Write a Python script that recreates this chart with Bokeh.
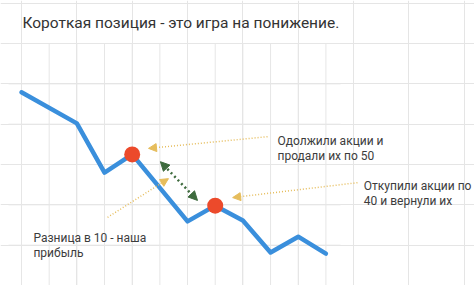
from bokeh.plotting import figure
from bokeh.models import Range1d, Arrow, NormalHead
from bokeh.core.properties import value
from bokeh.embed import file_html
from bokeh.resources import INLINE

# ---- data ----
x_vals = [0, 2, 3, 4, 6, 7, 8, 9, 10, 11]
y_vals = [4.79, 4.02, 2.80, 3.25, 1.59, 1.98, 1.61, 0.82, 1.21, 0.79]
dot_idx = [3, 5]  # sold at 50, bought back at 40

grid_x = list(range(12))
grid_y = [1, 2, 3, 4, 5, 6]

title_text = "Короткая позиция - это игра на понижение."

note_text = ["Одолжили акции и", "продали их по 50",
             "Откупили акции по", "40 и вернули их",
             "Разница в 10 - наша", "прибыль"]
note_x = [9.25, 9.25, 12.37, 12.37, 0.43, 0.43]
note_y = [3.595, 3.223, 2.455, 2.083, 1.190, 0.818]

# yellow pointer arrows: (x_start, y_start, x_end, y_end)
ptr_arrows = [(8.89, 3.69, 4.59, 3.40),
              (12.14, 2.55, 7.63, 2.18),
              (3.11, 1.69, 5.31, 2.65)]
diff_arrow = (5.02, 3.07, 6.36, 2.11)

p = figure(width=474, height=285, output_backend="svg", toolbar_location=None,
           x_axis_location=None, y_axis_location=None,
           x_range=Range1d(-0.759, 16.37), y_range=Range1d(0, 7.067),
           min_border=0, outline_line_color=None)
p.background_fill_color = "white"
p.border_fill_color = "white"

grid_color = "#e6e6e6"
p.segment(x0=grid_x, x1=grid_x, y0=[0] * len(grid_x), y1=[grid_y[-1]] * len(grid_x),
          line_color=grid_color, line_width=1)
p.segment(x0=[-0.47] * len(grid_y), x1=[11.53] * len(grid_y), y0=grid_y, y1=grid_y,
          line_color=grid_color, line_width=1)

p.line(x_vals, y_vals, line_width=4.5, line_color="#3a8fdc", line_join="round", line_cap="round")
p.scatter([x_vals[i] for i in dot_idx], [y_vals[i] for i in dot_idx], size=16,
          fill_color="#ec4a2b", line_color=None)

yellow = "#e6bd5c"
for xs, ys, xe, ye in ptr_arrows:
    p.add_layout(Arrow(end=NormalHead(size=8, fill_color=yellow, line_color=yellow),
                       x_start=xs, y_start=ys, x_end=xe, y_end=ye,
                       line_color=yellow, line_width=1.5, line_dash="1 2"))

green = "#3e6b3e"
xs, ys, xe, ye = diff_arrow
p.add_layout(Arrow(start=NormalHead(size=9, fill_color=green, line_color=green),
                   end=NormalHead(size=9, fill_color=green, line_color=green),
                   x_start=xs, y_start=ys, x_end=xe, y_end=ye,
                   line_color=green, line_width=2.5, line_dash="2 3"))

p.text(x=[0.036], y=[6.50], text=[title_text], text_font=value("Roboto"),
       text_font_size="15.5px", text_color="#333333", text_baseline="alphabetic",
       text_align="left")
p.text(x=note_x, y=note_y, text=note_text, text_font=value("Roboto"),
       text_font_size="12px", text_color="#3c3c3c", text_baseline="alphabetic",
       text_align="left")

open("out.html", "w").write(file_html(p, INLINE))
